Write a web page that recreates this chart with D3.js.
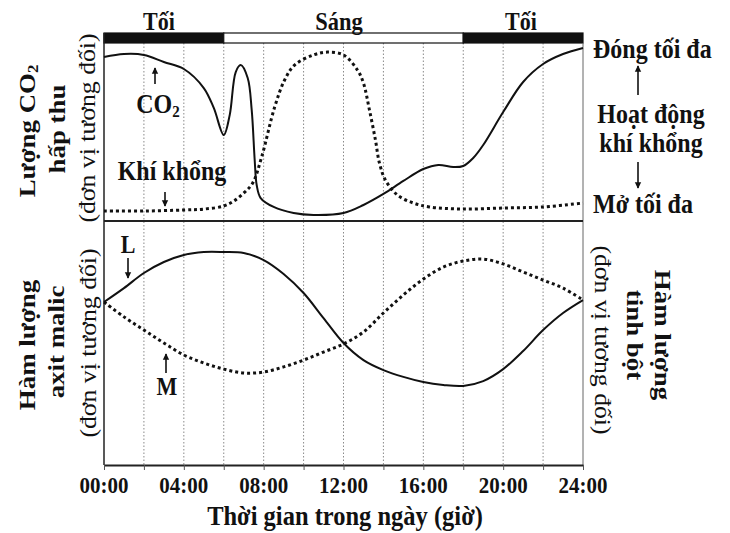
<!DOCTYPE html>
<html>
<head>
<meta charset="utf-8">
<script src="https://cdn.jsdelivr.net/npm/d3@7"></script>
<style>
  body { margin: 0; background: #fff; }
  svg text { font-family: "Liberation Serif", "Times New Roman", serif; fill: #111; }
</style>
</head>
<body>
<svg id="chart" width="730" height="533"></svg>
<script>
/* Data (relative units 0-100) */
var co2Hours   = [0, 1, 2, 3, 4, 5, 5.5, 6, 6.3, 6.6, 6.85, 7.2, 7.4, 7.55, 7.65, 7.85, 8.5, 9.5, 10.5, 12, 13, 14, 15, 16, 16.75, 17.5, 18, 18.5, 19, 20, 21, 22, 23, 24];
var co2Values  = [92.1, 93.8, 93.3, 89.3, 85.4, 74.7, 63.5, 48.3, 59.6, 83.7, 87.6, 80.3, 62.4, 34.3, 20.2, 12.9, 7.9, 4.5, 3.4, 4.5, 9.0, 15.2, 22.5, 29.2, 31.5, 30.3, 30.9, 35.4, 42.7, 61.2, 78.1, 88.2, 93.8, 97.2];

var stomataHours  = [0, 2, 4, 5, 6, 6.5, 7, 7.45, 7.9, 8.55, 9.05, 9.55, 10.5, 11.2, 12, 12.7, 13.0, 13.3, 13.6, 13.8, 14.1, 14.7, 15.5, 16.3, 18, 20, 22, 24];
var stomataValues = [5.6, 5.6, 6.2, 6.7, 8.4, 11.2, 15.7, 21.3, 36.0, 64.0, 79.2, 87.6, 93.3, 94.9, 93.3, 84.8, 77.5, 62.4, 45.5, 32.6, 23.0, 14.6, 10.1, 7.9, 6.7, 7.3, 7.9, 10.1];

var bottomHours  = [0, 1, 2, 3, 4, 5, 6, 7, 8, 9, 10, 11, 12, 13, 14, 15, 16, 17, 18, 19, 20, 21, 22, 23, 24];
var malicValues  = [66.8, 72.5, 78.7, 83.2, 86.1, 87.3, 87.3, 86.9, 84.0, 78.3, 70.5, 60.2, 50.0, 43.0, 38.9, 36.1, 34.0, 32.8, 32.4, 34.4, 39.3, 46.7, 55.3, 62.3, 67.6];
var starchValues = [66.8, 60.7, 55.3, 50.0, 45.1, 41.8, 39.3, 37.7, 38.1, 40.2, 43.0, 46.3, 49.6, 54.5, 62.3, 69.7, 76.2, 81.1, 83.6, 84.4, 82.4, 79.1, 75.8, 72.5, 67.6];

var periods = [
  { label: "Tối",  start: 0,  end: 6,  dark: true },
  { label: "Sáng", start: 6,  end: 18, dark: false },
  { label: "Tối",  start: 18, end: 24, dark: true }
];
var tickHours = [0, 2, 4, 6, 8, 10, 12, 14, 16, 18, 20, 22, 24];
var gridHours = [2, 4, 6, 8, 10, 12, 14, 16, 18, 20, 22];

var svg = d3.select("#chart");
var left = 104, right = 583;
var barTop = 33, topY0 = 43, midY = 221, botY = 465;
var stretch = 1.12; // the figure's lettering is slightly tall

var x = d3.scaleLinear().domain([0, 24]).range([left, right]);
var yTop = d3.scaleLinear().domain([0, 100]).range([midY, topY0]);
var yBot = d3.scaleLinear().domain([0, 100]).range([botY, midY]);

// grid lines
svg.append("g").selectAll("line")
  .data(gridHours).enter().append("line")
  .attr("x1", d => x(d)).attr("x2", d => x(d))
  .attr("y1", topY0).attr("y2", botY)
  .attr("stroke", "#8a8a8a").attr("stroke-width", 1)
  .attr("stroke-dasharray", "1.5,2");

// day / night bar
svg.append("g").selectAll("rect")
  .data(periods).enter().append("rect")
  .attr("x", d => x(d.start)).attr("width", d => x(d.end) - x(d.start))
  .attr("y", barTop).attr("height", topY0 - barTop)
  .attr("fill", d => d.dark ? "#111" : "#fff")
  .attr("stroke", "#111").attr("stroke-width", 1.2);

// frame
var frame = svg.append("g").attr("stroke", "#222").attr("fill", "none");
frame.append("line").attr("x1", left).attr("x2", left).attr("y1", barTop).attr("y2", botY).attr("stroke-width", 1.5);
frame.append("line").attr("x1", right).attr("x2", right).attr("y1", topY0).attr("y2", botY).attr("stroke-width", 1).attr("stroke", "#666");
frame.append("line").attr("x1", left).attr("x2", right).attr("y1", midY).attr("y2", midY).attr("stroke-width", 1.8);

// x axis
var xAxis = d3.axisBottom(x).tickValues(tickHours).tickSize(5).tickSizeOuter(0).tickFormat("");
var ax = svg.append("g").attr("transform", "translate(0," + botY + ")").call(xAxis);
ax.select(".domain").attr("stroke", "#222").attr("stroke-width", 2);
ax.selectAll(".tick line").attr("stroke", "#555");

// text helper: stretched lettering
function label(px, py, str, size, opts) {
  opts = opts || {};
  var t = svg.append("text")
    .attr("transform", "translate(" + px + "," + py + ") scale(1," + stretch + ")" + (opts.rotate ? " rotate(" + opts.rotate + ")" : ""))
    .attr("text-anchor", opts.anchor || "middle")
    .attr("font-size", size)
    .attr("font-weight", opts.normal ? "normal" : "bold");
  if (opts.rotate) t.attr("dominant-baseline", "central");
  t.text(str);
  return t;
}

// tick labels
tickHours.filter(h => h % 4 === 0).forEach(function (h) {
  label(x(h), 493, d3.format("02d")(h) + ":00", 21);
});
label(345, 525, "Thời gian trong ngày (giờ)", 24.5);

// period labels
label(159, 30, "Tối", 22);
label(339, 30, "Sáng", 22.5);
label(521, 30, "Tối", 22);

// curves
var line = d3.line().curve(d3.curveCatmullRom.alpha(0.5));
function drawCurve(hours, values, yScale, dotted) {
  svg.append("path")
    .attr("d", line(hours.map((h, i) => [x(h), yScale(values[i])])))
    .attr("fill", "none")
    .attr("stroke", "#111")
    .attr("stroke-width", dotted ? 3 : 2)
    .attr("stroke-dasharray", dotted ? "3,3" : null);
}
drawCurve(stomataHours, stomataValues, yTop, true);
drawCurve(co2Hours, co2Values, yTop, false);
drawCurve(bottomHours, starchValues, yBot, true);
drawCurve(bottomHours, malicValues, yBot, false);

// arrows
var defs = svg.append("defs");
defs.append("marker").attr("id", "head")
  .attr("viewBox", "0 0 10 10").attr("refX", 9).attr("refY", 5)
  .attr("markerWidth", 4).attr("markerHeight", 5).attr("orient", "auto")
  .append("path").attr("d", "M0,0 L10,5 L0,10 Z").attr("fill", "#111");
function arrow(px, y1, y2) {
  svg.append("line").attr("x1", px).attr("x2", px).attr("y1", y1).attr("y2", y2)
    .attr("stroke", "#111").attr("stroke-width", 1.6).attr("marker-end", "url(#head)");
}

// in-plot annotations
var co2Lab = label(158, 113, "CO", 24);
co2Lab.append("tspan").attr("font-size", 15).attr("dy", 4).text("2");
arrow(155, 84, 68);
label(172, 180, "Khí khổng", 24);
arrow(165, 192, 206);
label(128, 253, "L", 22);
arrow(128, 258, 278);
label(167, 395, "M", 22);
arrow(166, 373, 354);

// right side (stomata activity)
label(593, 58, "Đóng tối đa", 24, { anchor: "start" });
arrow(638, 95, 66);
label(651, 123, "Hoạt động", 24);
label(651, 152, "khí khổng", 24);
arrow(638, 162, 188);
label(593, 213, "Mở tối đa", 24, { anchor: "start" });

// left axis titles
var co2Title = label(27, 131, "Lượng CO", 24, { rotate: -90 });
co2Title.append("tspan").attr("font-size", 15).attr("dy", 5).text("2");
label(57, 129, "hấp thu", 24, { rotate: -90 });
label(87, 128, "(đơn vị tương đối)", 23, { rotate: -90, normal: true });
label(27, 345, "Hàm lượng", 24, { rotate: -90 });
label(56, 342, "axit malic", 24, { rotate: -90 });
label(88, 343, "(đơn vị tương đối)", 23, { rotate: -90, normal: true });

// right axis titles
label(603, 340, "(đơn vị tương đối)", 23, { rotate: 90, normal: true });
label(635, 335, "tinh bột", 24, { rotate: 90 });
label(663, 335, "Hàm lượng", 24, { rotate: 90 });
</script>
</body>
</html>
